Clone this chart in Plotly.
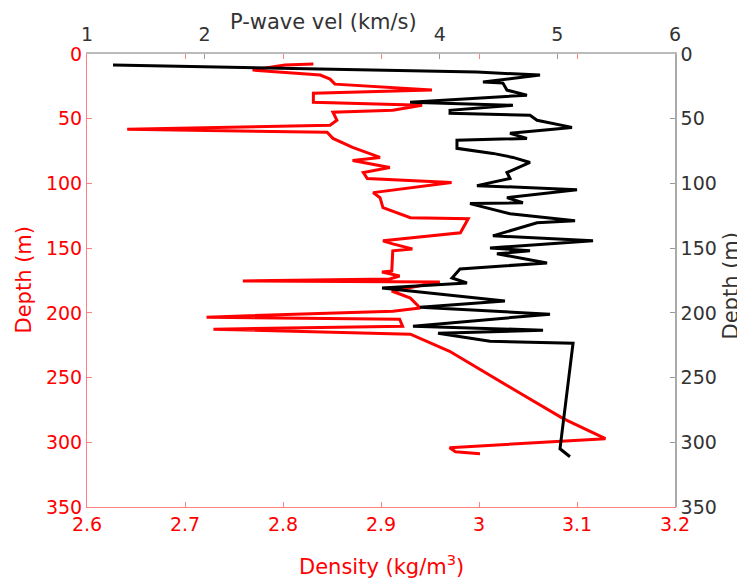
import plotly.graph_objects as go

# Density log (red) — depth (m) vs density (kg/m^3)
den_depth = [7.8, 8.5, 12.4, 16.3, 19.4, 23.3, 27.9, 30.3, 37.3, 39.6, 43.5, 45.0, 51.2, 55.1,
             58.2, 60.5, 65.2, 72.2, 79.9, 82.3, 87.7, 91.6, 96.2, 99.3, 107.1, 111.0, 118.7,
             126.5, 127.3, 138.1, 144.3, 146.7, 150.6, 152.1, 167.6, 168.4, 171.5, 173.8,
             175.4, 176.2, 183.1, 188.6, 196.3, 198.7, 203.3, 204.9, 210.3, 212.6, 216.5,
             229.7, 260.8, 281.7, 297.2, 304.2, 307.3, 308.9]
density = [2.831, 2.802, 2.769, 2.838, 2.848, 2.853, 2.952, 2.831, 2.831, 2.942, 2.912, 2.851,
           2.855, 2.848, 2.641, 2.845, 2.851, 2.871, 2.899, 2.871, 2.909, 2.882, 2.886, 2.972,
           2.892, 2.899, 2.902, 2.930, 2.989, 2.981, 2.902, 2.912, 2.932, 2.912, 2.911, 2.901,
           2.919, 2.909, 2.759, 2.960, 2.911, 2.930, 2.940, 2.912, 2.722, 2.919, 2.922, 2.729,
           2.930, 2.970, 3.039, 3.086, 3.129, 2.970, 2.976, 3.001]

# P-wave velocity log (black) — depth (m) vs velocity (km/s)
vel_depth = [8.5, 13.2, 14.0, 16.3, 21.7, 22.5, 27.9, 31.8, 37.3, 39.6, 43.5, 45.8, 47.3, 51.2,
             56.7, 61.3, 65.2, 66.7, 72.9, 76.8, 79.9, 83.8, 91.6, 96.2, 101.7, 104.8, 111.0,
             114.9, 115.6, 123.4, 128.8, 130.4, 140.5, 144.3, 149.8, 152.1, 154.4, 161.4,
             166.1, 173.1, 176.9, 180.8, 190.9, 195.6, 201.0, 210.3, 213.4, 215.7, 222.0,
             223.5, 305.0, 311.2]
velocity = [1.221, 4.172, 4.316, 4.852, 4.367, 4.537, 4.571, 4.741, 3.747, 4.622, 4.087, 4.087,
            4.767, 4.827, 5.124, 4.597, 4.741, 4.146, 4.146, 4.452, 4.622, 4.767, 4.571, 4.597,
            4.316, 5.167, 4.571, 4.707, 4.257, 4.597, 5.150, 4.827, 4.452, 5.303, 4.427, 4.767,
            4.486, 4.912, 4.172, 4.104, 4.231, 3.509, 4.554, 3.832, 4.937, 3.772, 4.878, 3.985,
            4.427, 5.133, 5.022, 5.107]

depth_ticks = [0, 50, 100, 150, 200, 250, 300, 350]
den_ticks = [2.6, 2.7, 2.8, 2.9, 3.0, 3.1, 3.2]
den_ticktext = ["2.6", "2.7", "2.8", "2.9", "3", "3.1", "3.2"]
vel_ticks = [1, 2, 4, 5, 6]
vel_ticktext = ["1", "2", "4", "5", "6"]

FONT = "DejaVu Sans"
RED = "#ff0000"
DARK = "#333333"
TICK = 19
TITLE = 21

fig = go.Figure()
fig.add_trace(go.Scatter(x=density, y=den_depth, mode="lines",
                         line=dict(color=RED, width=3), xaxis="x", yaxis="y",
                         showlegend=False))
fig.add_trace(go.Scatter(x=velocity, y=vel_depth, mode="lines",
                         line=dict(color="black", width=3), xaxis="x2", yaxis="y2",
                         showlegend=False))

fig.update_layout(
    width=737, height=575,
    margin=dict(l=79, r=70, t=46, b=76),
    plot_bgcolor="white", paper_bgcolor="white",
    font=dict(family=FONT, size=TICK),
    xaxis=dict(range=[2.6, 3.2], tickvals=den_ticks, ticktext=den_ticktext,
               showgrid=False, zeroline=False, showline=True, linecolor="#ff8080",
               linewidth=1, ticks="inside", ticklen=5, tickcolor="#ff8080",
               mirror="ticks", tickfont=dict(color=RED, size=TICK, family=FONT)),
    yaxis=dict(range=[350, 0], tickvals=depth_ticks,
               showgrid=False, zeroline=False, showline=True, linecolor="#ff8080",
               linewidth=1, ticks="inside", ticklen=5, tickcolor="#ff8080",
               mirror="ticks", tickfont=dict(color=RED, size=TICK, family=FONT)),
    xaxis2=dict(range=[1, 6], tickvals=vel_ticks, ticktext=vel_ticktext,
                overlaying="x", side="top", anchor="y2",
                showgrid=False, zeroline=False, showline=True, linecolor="#bbbbbb",
                linewidth=1.5, ticks="inside", ticklen=5, tickcolor="#999999",
                ticklabelstandoff=4,
                tickfont=dict(color=DARK, size=TICK, family=FONT)),
    yaxis2=dict(range=[350, 0], tickvals=depth_ticks,
                overlaying="y", side="right", anchor="x2",
                showgrid=False, zeroline=False, showline=True, linecolor="#aaaaaa",
                linewidth=1.5, ticks="inside", ticklen=5, tickcolor="#999999",
                tickfont=dict(color=DARK, size=TICK, family=FONT)),
    annotations=[
        dict(text="P-wave vel (km/s)", xref="paper", yref="paper", x=0.403, y=1.0,
             xanchor="center", yanchor="middle", yshift=32, showarrow=False,
             font=dict(color=DARK, size=TITLE, family=FONT), bgcolor="white"),
        dict(text="Density (kg/m<sup>3</sup>)", xref="paper", yref="paper", x=0.5, y=0.0,
             xanchor="center", yanchor="middle", yshift=-58, showarrow=False,
             font=dict(color=RED, size=TITLE, family=FONT)),
        dict(text="Depth (m)", xref="paper", yref="paper", x=0.0, y=0.5,
             xanchor="center", yanchor="middle", xshift=-64, yshift=0,
             textangle=-90, showarrow=False,
             font=dict(color=RED, size=TITLE, family=FONT)),
        dict(text="Depth (m)", xref="paper", yref="paper", x=1.0, y=0.5,
             xanchor="center", yanchor="middle", xshift=55, yshift=-6,
             textangle=-90, showarrow=False,
             font=dict(color=DARK, size=TITLE, family=FONT)),
    ],
)

fig.write_html("out.html")
